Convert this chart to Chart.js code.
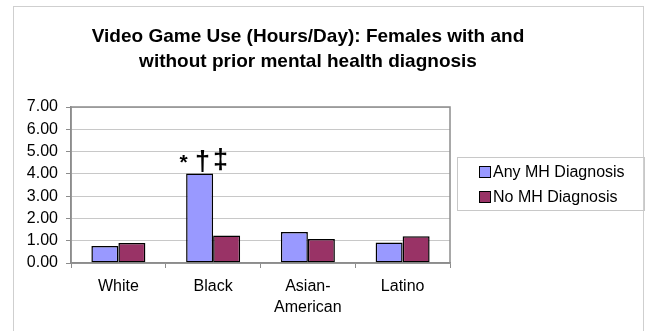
<!DOCTYPE html>
<html>
<head>
<meta charset="utf-8">
<script src="https://cdn.jsdelivr.net/npm/chart.js@4/dist/chart.umd.min.js"></script>
<style>
  html, body { margin: 0; padding: 0; background: #ffffff; }
  #wrap { position: relative; width: 647px; height: 331px; overflow: hidden; }
  #frame { position: absolute; left: 13px; top: 6px; width: 629px; height: 330px; border: 1px solid #cfcfcf; }
  #chart { position: absolute; left: 0; top: 0; }
</style>
</head>
<body>
<div id="wrap">
  <div id="frame"></div>
  <canvas id="chart" width="647" height="331"></canvas>
</div>
<script>
// Average daily video game hours among females, by race/ethnicity
const categories = ['White', 'Black', ['Asian-', 'American'], 'Latino'];
const anyMH = [0.76, 4.02, 1.39, 0.92];
const noMH = [0.90, 1.23, 1.08, 1.20];
const seriesNames = ['Any MH Diagnosis', 'No MH Diagnosis'];
const yTicks = [0, 1, 2, 3, 4, 5, 6, 7];
const titleLines = ['Video Game Use (Hours/Day): Females with and', 'without prior mental health diagnosis'];
const significance = ['*', '\u2020', '\u2021'];

const FONT = '"Liberation Sans", Arial, sans-serif';

// Title, plot frame, significance marks and boxed legend
const decorations = {
  id: 'decorations',
  afterDraw(chart) {
    const ctx = chart.ctx;
    const area = chart.chartArea;
    ctx.save();

    // title
    ctx.fillStyle = '#000';
    ctx.font = 'bold 19px ' + FONT;
    ctx.textAlign = 'center';
    ctx.textBaseline = 'alphabetic';
    ctx.fillText(titleLines[0], 308, 42);
    ctx.fillText(titleLines[1], 308, 67);

    // plot frame
    ctx.strokeStyle = '#8c8c8c';
    ctx.lineWidth = 1.5;
    ctx.strokeRect(area.left, area.top, area.right - area.left, area.bottom - area.top);

    // significance marks above the Black / Any MH bar
    const bar = chart.getDatasetMeta(0).data[1];
    ctx.textAlign = 'center';
    ctx.textBaseline = 'alphabetic';
    // asterisk: small, raised
    ctx.font = 'bold 21px ' + FONT;
    let m = ctx.measureText(significance[0]);
    ctx.fillText(significance[0], bar.x - 16, bar.y - 18 + m.actualBoundingBoxAscent);
    // daggers: feet resting on the bar top
    ctx.font = 'bold 27px ' + FONT;
    m = ctx.measureText(significance[1]);
    ctx.fillText(significance[1], bar.x + 3, bar.y - m.actualBoundingBoxDescent);
    m = ctx.measureText(significance[2]);
    ctx.fillText(significance[2], bar.x + 21, bar.y - 2 - m.actualBoundingBoxDescent);

    // legend
    const lx = 457, ly = 157, lw = 187, lh = 53;
    ctx.strokeStyle = '#c8c8c8';
    ctx.lineWidth = 1;
    ctx.strokeRect(lx + 0.5, ly + 0.5, lw, lh);
    ctx.font = '16px ' + FONT;
    ctx.textAlign = 'left';
    ctx.textBaseline = 'middle';
    chart.data.datasets.forEach((ds, i) => {
      const cy = 172 + i * 25;
      ctx.fillStyle = ds.backgroundColor;
      ctx.fillRect(480, cy - 5, 10, 10);
      ctx.strokeStyle = '#000';
      ctx.lineWidth = 1;
      ctx.strokeRect(479.5, cy - 5.5, 11, 11);
      ctx.fillStyle = '#000';
      ctx.fillText(ds.label, 493, cy + 1);
    });
    ctx.restore();
  }
};

new Chart(document.getElementById('chart'), {
  type: 'bar',
  data: {
    labels: categories,
    datasets: [
      { label: seriesNames[0], data: anyMH, backgroundColor: '#9999FF', borderColor: '#000', borderWidth: 1.5, borderSkipped: false },
      { label: seriesNames[1], data: noMH, backgroundColor: '#993366', borderColor: '#000', borderWidth: 1.5, borderSkipped: false }
    ]
  },
  options: {
    responsive: false,
    animation: false,
    devicePixelRatio: 1,
    layout: { padding: { left: 0, top: 107, right: 197, bottom: 0 } },
    datasets: { bar: { categoryPercentage: 0.57, barPercentage: 1.0 } },
    plugins: {
      legend: { display: false },
      title: { display: false },
      tooltip: { enabled: false }
    },
    scales: {
      x: {
        afterFit(scale) { scale.height = 68; },
        grid: { offset: true, drawOnChartArea: false, drawTicks: true, tickLength: 5, color: '#8c8c8c', tickColor: '#8c8c8c' },
        border: { display: true, color: '#8c8c8c', width: 1.5 },
        ticks: { color: '#000', font: { family: FONT, size: 16, lineHeight: 1.3 }, padding: 8, maxRotation: 0, autoSkip: false }
      },
      y: {
        min: yTicks[0],
        max: yTicks[yTicks.length - 1],
        afterFit(scale) { scale.width = 71; },
        afterBuildTicks(scale) { scale.ticks = yTicks.map(v => ({ value: v })); },
        grid: { color: '#c8c8c8', lineWidth: 1, drawTicks: true, tickLength: 5, tickColor: '#8c8c8c' },
        border: { display: true, color: '#8c8c8c', width: 1.5 },
        ticks: { color: '#000', font: { family: FONT, size: 16 }, padding: 8, callback: v => Number(v).toFixed(2) }
      }
    }
  },
  plugins: [decorations]
});
</script>
</body>
</html>
